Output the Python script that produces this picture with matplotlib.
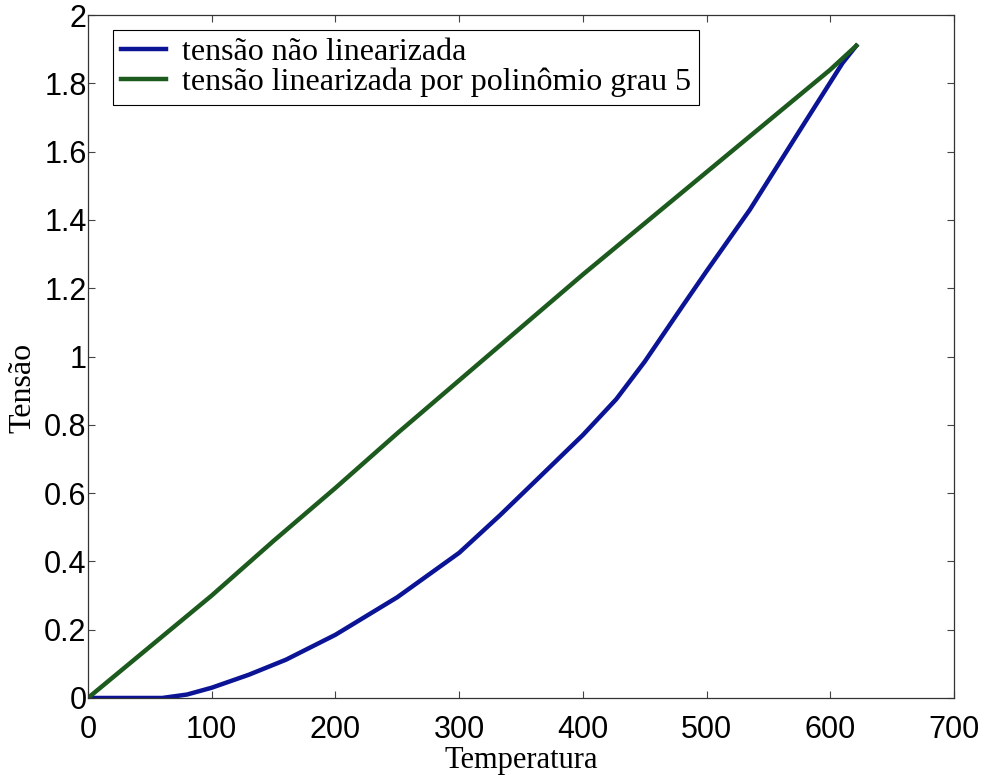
import numpy as np
import matplotlib
matplotlib.use('Agg')
import matplotlib.pyplot as plt
from matplotlib.ticker import FuncFormatter

temp_nl = [0, 30, 60, 80, 100, 130, 160, 200, 250, 300, 333, 363, 400,
           427, 450, 481, 500, 535, 575, 610, 621]
tensao_nl = [0, 0, 0, 0.01, 0.03, 0.068, 0.112, 0.185, 0.295, 0.425, 0.535,
             0.64, 0.77, 0.875, 0.985, 1.15, 1.25, 1.43, 1.66, 1.86, 1.91]

temp_lin = [0, 50, 100, 150, 200, 250, 300, 350, 400, 450, 500, 550,
            600, 621]
tensao_lin = [0, 0.15, 0.30, 0.46, 0.615, 0.775, 0.93, 1.085, 1.24, 1.39,
              1.54, 1.69, 1.84, 1.91]

xticks = [0, 100, 200, 300, 400, 500, 600, 700]
yticks = [0, 0.2, 0.4, 0.6, 0.8, 1, 1.2, 1.4, 1.6, 1.8, 2]

serif = 'Liberation Serif'
sans = 'Liberation Sans'

fig = plt.figure(figsize=(9.92, 7.75), dpi=100)
ax = fig.add_axes([0.0887, 0.0994, 0.873, 0.8812])

ax.plot(temp_nl, tensao_nl, color='#0c1496', lw=3.2,
        label='tensão não linearizada')
ax.plot(temp_lin, tensao_lin, color='#1c5a1e', lw=3.2,
        label='tensão linearizada por polinômio grau 5')

ax.set_xlim(0, 700)
ax.set_ylim(0, 2)
ax.set_xticks(xticks)
ax.set_yticks(yticks)
ax.yaxis.set_major_formatter(FuncFormatter(lambda v, p: '%g' % v))
ax.tick_params(direction='in', top=True, right=True, length=5, width=0.8,
               labelsize=22, color='#444444')
ax.tick_params(axis='x', pad=12)
ax.tick_params(axis='y', pad=1)
for lab in ax.get_xticklabels() + ax.get_yticklabels():
    lab.set_family(sans)
for sp in ax.spines.values():
    sp.set_linewidth(0.9)
    sp.set_color('#333333')

ax.set_xlabel('Temperatura', family=serif, fontsize=22, labelpad=1)
ax.set_ylabel('Tensão', family=serif, fontsize=23)
ax.yaxis.set_label_coords(-0.058, 0.454)

leg = ax.legend(loc='upper left', bbox_to_anchor=(0.029, 0.978),
                prop={'family': serif, 'size': 23}, fancybox=False,
                framealpha=1, edgecolor='black', borderpad=0.25,
                handlelength=1.4, handletextpad=0.5, labelspacing=0.0,
                borderaxespad=0)
leg.get_frame().set_linewidth(0.8)

fig.savefig('out.png', dpi=100)
